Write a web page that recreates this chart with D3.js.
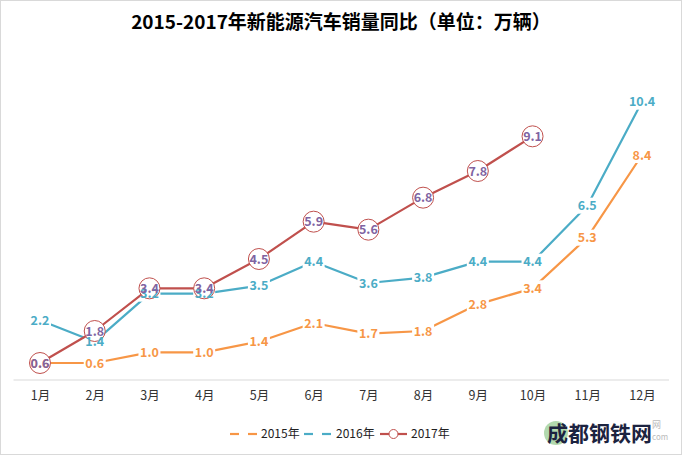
<!DOCTYPE html>
<html><head><meta charset="utf-8">
<script src="https://cdn.jsdelivr.net/npm/d3@7"></script>
<style>body{margin:0;background:#fff}svg{display:block}</style>
</head><body>
<svg id="c" width="682" height="455"></svg>
<script>
const categories = ["1月","2月","3月","4月","5月","6月","7月","8月","9月","10月","11月","12月"];
const s2015 = [0.6,0.6,1.0,1.0,1.4,2.1,1.7,1.8,2.8,3.4,5.3,8.4];
const s2016 = [2.2,1.4,3.2,3.2,3.5,4.4,3.6,3.8,4.4,4.4,6.5,10.4];
const s2017 = [0.6,1.8,3.4,3.4,4.5,5.9,5.6,6.8,7.8,9.1];
const seriesNames = ["2015年","2016年","2017年"];
const title = "2015-2017年新能源汽车销量同比（单位：万辆）";

const font = "'Microsoft YaHei','Noto Sans CJK SC','Noto Sans',sans-serif";
const svg = d3.select("#c");
svg.append("rect").attr("x",0.5).attr("y",0.5).attr("width",681).attr("height",454)
  .attr("fill","#fff").attr("stroke","#d9d9d9");

svg.append("text").attr("x",341).attr("y",29).attr("text-anchor","middle")
  .attr("font-family",font).attr("font-weight","bold").attr("font-size",19)
  .attr("fill","#000").text(title);

const x = d3.scalePoint().domain(categories).range([40,642]);
const y = d3.scaleLinear().domain([0,12]).range([379,59]);

// axis
const ax = svg.append("g").attr("transform","translate(0,380)")
  .call(d3.axisBottom(x).tickSize(0).tickPadding(11));
ax.select(".domain").attr("d","M13.5,0H669").attr("stroke","#d9d9d9");
ax.selectAll("text").attr("font-family",font).attr("font-size",12.5).attr("fill","#333");

const colors = ["#F79646","#4BACC6","#C0504D"];
const labelColors = ["#F79646","#4BACC6","#8064A2"];
const data = [s2015,s2016,s2017];
const line = d3.line().x((d,i)=>x(categories[i])).y(d=>y(d));

data.forEach((vals,si)=>{
  svg.append("path").datum(vals).attr("d",line).attr("fill","none")
    .attr("stroke",colors[si]).attr("stroke-width",2.2).attr("stroke-linejoin","round");
  if(si<2){
    svg.selectAll(null).data(vals).enter().append("rect")
      .attr("x",(d,i)=>x(categories[i])-(d>=10?15:11)).attr("y",d=>y(d)-8)
      .attr("width",d=>d>=10?30:22).attr("height",16).attr("fill","#fff");
  } else {
    svg.selectAll(null).data(vals).enter().append("circle")
      .attr("cx",(d,i)=>x(categories[i])).attr("cy",d=>y(d)).attr("r",10.5)
      .attr("fill","#fff").attr("stroke",colors[si]).attr("stroke-width",1);
  }
});
data.forEach((vals,si)=>{
  svg.selectAll(null).data(vals).enter().append("text")
    .attr("x",(d,i)=>x(categories[i])).attr("y",d=>y(d)).attr("dy","0.36em")
    .attr("text-anchor","middle").attr("font-family",font).attr("font-weight","bold")
    .attr("font-size",12.5).attr("fill",labelColors[si]).text(d=>d.toFixed(1));
});

// legend
const lg = [[230,261],[304,336],[380,411]];
seriesNames.forEach((n,i)=>{
  const [x0,tx]=lg[i]; const cy=434;
  svg.append("line").attr("x1",x0).attr("x2",x0+27).attr("y1",cy).attr("y2",cy)
    .attr("stroke",colors[i]).attr("stroke-width",2.2);
  if(i<2){
    svg.append("rect").attr("x",x0+9).attr("y",cy-3).attr("width",9).attr("height",6).attr("fill","#fff");
  } else {
    svg.append("circle").attr("cx",x0+13.5).attr("cy",cy).attr("r",4.5)
      .attr("fill","#fff").attr("stroke",colors[i]).attr("stroke-width",1);
  }
  svg.append("text").attr("x",tx).attr("y",cy).attr("dy","0.36em")
    .attr("font-family",font).attr("font-size",12).attr("fill","#222").text(n);
});

// watermark
svg.append("circle").attr("cx",556).attr("cy",433).attr("r",12).attr("fill","#9fcf9a").attr("opacity",0.8);
svg.append("text").attr("x",547).attr("y",441).attr("font-family",font).attr("font-weight","bold")
  .attr("font-size",21).attr("fill","#1c2340").text("成都钢铁网");
svg.append("text").attr("x",652).attr("y",428).attr("font-family",font)
  .attr("font-size",9).attr("fill","#bbb").text("网");
svg.append("text").attr("x",652).attr("y",440).attr("font-family",font)
  .attr("font-size",8).attr("fill","#bbb").text("com");
</script>
</body></html>
